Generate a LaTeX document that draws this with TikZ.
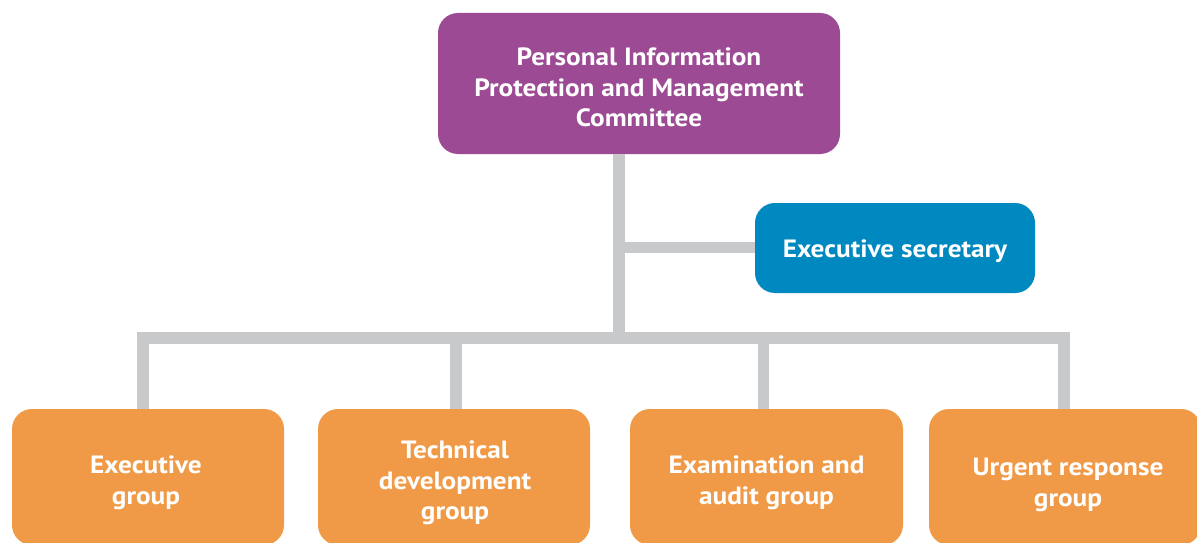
\documentclass[tikz,border=0pt]{standalone}
\usepackage{fontspec}
\setmainfont{PT Sans}[FakeStretch=1.09]
\definecolor{purp}{HTML}{9C4A94}
\definecolor{secblue}{HTML}{0088C0}
\definecolor{orng}{HTML}{F09A48}
\definecolor{lgray}{HTML}{C8C9CB}
\begin{document}
\begin{tikzpicture}[x=1pt,y=-1pt,
  box/.style={rounded corners=20pt, inner sep=0pt},
  lbl/.style={inner sep=0pt, align=center, text=white,
    font=\fontsize{25}{30.5}\selectfont\bfseries},
  conn/.style={draw=lgray, line width=11.5pt, line join=miter}]
\useasboundingbox (0,0) rectangle (1197,543);
\clip (0,0) rectangle (1197,543);
% boxes
\node[box, fill=purp, minimum width=402pt, minimum height=141pt] (top) at (639,83.5) {};
\node[box, fill=secblue, minimum width=280pt, minimum height=90pt] (sec) at (895,248) {};
\node[box, fill=orng, minimum width=272pt, minimum height=136pt] (g1) at (148,477) {};
\node[box, fill=orng, minimum width=272pt, minimum height=136pt] (g2) at (454,477) {};
\node[box, fill=orng, minimum width=273pt, minimum height=136pt] (g3) at (766.5,477) {};
\node[box, fill=orng, minimum width=272pt, minimum height=136pt] (g4) at (1065,477) {};
% labels
\node[lbl] (topt) at ([yshift=-4pt]top.center) {Personal Information\\Protection and Management\\Committee};
\node[lbl] (sect) at ([yshift=-3pt]sec.center) {Executive secretary};
\node[lbl] (g1t) at ([xshift=-2pt,yshift=-6pt]g1.center) {Executive\\group};
\node[lbl] (g2t) at ([xshift=1pt,yshift=-6pt]g2.center) {Technical\\development\\group};
\node[lbl] (g3t) at ([yshift=-6pt]g3.center) {Examination and\\audit group};
\node[lbl] (g4t) at ([xshift=3pt,yshift=-8pt]g4.center) {Urgent response\\group};
% connectors
\coordinate (bus) at (619,338);
\coordinate (secj) at (619,247.5);
\draw[conn] (top.south -| bus) -- (bus);
\draw[conn] (secj) -- (sec.west |- secj);
\draw[conn] ([xshift=-5pt]g1.north) |- (bus) -| ([xshift=-1pt]g4.north);
\draw[conn] ([xshift=2pt]g2.north) -- ([xshift=2pt]g2.north |- bus);
\draw[conn] ([xshift=-3pt]g3.north) -- ([xshift=-3pt]g3.north |- bus);
\end{tikzpicture}
\end{document}
